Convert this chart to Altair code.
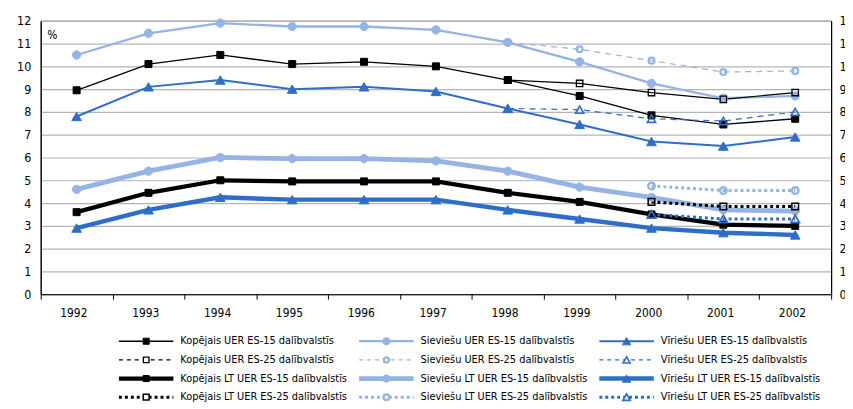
import altair as alt
import pandas as pd

years = [1992, 1993, 1994, 1995, 1996, 1997, 1998, 1999, 2000, 2001, 2002]
years_es25 = [1998, 1999, 2000, 2001, 2002]
years_lt25 = [2000, 2001, 2002]

kop_es15 = [8.95, 10.1, 10.5, 10.1, 10.2, 10.0, 9.4, 8.7, 7.85, 7.45, 7.7]
siev_es15 = [10.5, 11.45, 11.9, 11.75, 11.75, 11.6, 11.05, 10.2, 9.25, 8.6, 8.7]
vir_es15 = [7.8, 9.1, 9.4, 9.0, 9.1, 8.9, 8.15, 7.45, 6.7, 6.5, 6.9]
kop_es25 = [9.4, 9.25, 8.85, 8.55, 8.85]
siev_es25 = [11.05, 10.75, 10.25, 9.75, 9.8]
vir_es25 = [8.15, 8.1, 7.7, 7.6, 8.0]
kop_lt15 = [3.6, 4.45, 5.0, 4.95, 4.95, 4.95, 4.45, 4.05, 3.5, 3.05, 3.0]
siev_lt15 = [4.6, 5.4, 6.0, 5.95, 5.95, 5.85, 5.4, 4.7, 4.25, 3.7, 3.65]
vir_lt15 = [2.9, 3.7, 4.25, 4.15, 4.15, 4.15, 3.7, 3.3, 2.9, 2.7, 2.6]
kop_lt25 = [4.05, 3.85, 3.85]
siev_lt25 = [4.75, 4.55, 4.55]
vir_lt25 = [3.5, 3.3, 3.3]

series_names = [
    "Kopējais UER ES-15 dalībvalstīs",
    "Sieviešu UER ES-15 dalībvalstīs",
    "Vīriešu UER ES-15 dalībvalstīs",
    "Kopējais UER ES-25 dalībvalstīs",
    "Sieviešu UER ES-25 dalībvalstīs",
    "Vīriešu UER ES-25 dalībvalstīs",
    "Kopējais LT UER ES-15 dalībvalstīs",
    "Sieviešu LT UER ES-15 dalībvalstīs",
    "Vīriešu LT UER ES-15 dalībvalstīs",
    "Kopējais LT UER ES-25 dalībvalstīs",
    "Sieviešu LT UER ES-25 dalībvalstīs",
    "Vīriešu LT UER ES-25 dalībvalstīs",
]
series_years = [years, years, years, years_es25, years_es25, years_es25,
                years, years, years, years_lt25, years_lt25, years_lt25]
series_values = [kop_es15, siev_es15, vir_es15, kop_es25, siev_es25, vir_es25,
                 kop_lt15, siev_lt15, vir_lt15, kop_lt25, siev_lt25, vir_lt25]

# legend grid placement (column, row)
legend_col = [0, 1, 2, 0, 1, 2, 0, 1, 2, 0, 1, 2]
legend_row = [0, 0, 0, 1, 1, 1, 2, 2, 2, 3, 3, 3]

BLACK = "#000000"
LIGHT = "#95B3E3"
BLUE = "#2E6EC6"

# styles: color, line width, chart dash, legend dash, shape, filled, size, marker stroke width
styles = [
    dict(c=BLACK, w=1.3, dash=None, ldash=None, shape="square", filled=True, size=50, mw=1),
    dict(c=LIGHT, w=2.3, dash=None, ldash=None, shape="circle", filled=True, size=70, mw=1),
    dict(c=BLUE, w=2.0, dash=None, ldash=None, shape="triangle-up", filled=True, size=95, mw=1),
    dict(c=BLACK, w=1.2, dash=None, ldash=[4, 4], shape="square", filled=False, size=42, mw=1.3),
    dict(c=LIGHT, w=1.2, dash=[6, 5], ldash=[4, 4], shape="circle", filled=False, size=36, mw=2.2),
    dict(c=BLUE, w=1.2, dash=[6, 5], ldash=[4, 4], shape="triangle-up", filled=False, size=70, mw=1.6),
    dict(c=BLACK, w=4.3, dash=None, ldash=None, shape="square", filled=True, size=50, mw=1),
    dict(c=LIGHT, w=4.8, dash=None, ldash=None, shape="circle", filled=True, size=70, mw=1),
    dict(c=BLUE, w=4.5, dash=None, ldash=None, shape="triangle-up", filled=True, size=95, mw=1),
    dict(c=BLACK, w=3.0, dash=[3, 3], ldash=[3, 3], shape="square", filled=False, size=45, mw=1.5),
    dict(c=LIGHT, w=3.0, dash=[3, 3], ldash=[3, 3], shape="circle", filled=False, size=45, mw=2.4),
    dict(c=BLUE, w=3.0, dash=[3, 3], ldash=[3, 3], shape="triangle-up", filled=False, size=75, mw=1.7),
]

rows = []
for name, ys, vs in zip(series_names, series_years, series_values):
    for y, v in zip(ys, vs):
        rows.append({"series": name, "year": y, "value": v})
df = pd.DataFrame(rows)

legend_df = pd.DataFrame({"series": series_names, "col": legend_col, "row": legend_row})

FONT = "Liberation Sans Narrow, DejaVu Sans Condensed, Arial Narrow, sans-serif"

x_enc = alt.X(
    "year:Q",
    scale=alt.Scale(domain=[1991.5, 2002.5], nice=False, zero=False),
    axis=alt.Axis(
        values=[1991.5 + k for k in range(12)],
        labelExpr="datum.value < 2002 ? toString(datum.value + 0.5) : ''",
        labelOffset=33, labelFlush=False, labelOverlap=False, grid=False,
        tickSize=5, tickColor="black", domainColor="black", labelPadding=9,
        labelFontSize=12, labelFont=FONT, labelColor="black", title=None,
    ),
)
y_enc = alt.Y(
    "value:Q",
    scale=alt.Scale(domain=[0, 12], nice=False),
    axis=alt.Axis(
        values=list(range(13)), grid=True, gridColor="#B5B5B5", gridWidth=1.2,
        ticks=False, labelPadding=10, domainColor="black", labelFontSize=12.5,
        labelFont=FONT, labelColor="black",
        title="%", titleAngle=0, titleX=6, titleY=14, titleAlign="left",
        titleBaseline="middle", titleFontWeight="normal", titleFontSize=12,
        titleFont=FONT, titleColor="black",
    ),
)

main_layers = []
for name, st in zip(series_names, styles):
    base = alt.Chart(df).transform_filter(alt.datum.series == name)
    lkw = dict(color=st["c"], strokeWidth=st["w"])
    if st["dash"]:
        lkw["strokeDash"] = st["dash"]
    main_layers.append(base.mark_line(**lkw).encode(x=x_enc, y=y_enc))
for name, st in zip(series_names, styles):
    base = alt.Chart(df).transform_filter(alt.datum.series == name)
    pkw = dict(shape=st["shape"], size=st["size"], stroke=st["c"], strokeWidth=st["mw"], opacity=1)
    if st["filled"]:
        pkw["fill"] = st["c"]
        pkw["fillOpacity"] = 1
    else:
        pkw["fill"] = "transparent"
    main_layers.append(base.mark_point(**pkw).encode(x=x_enc, y=y_enc))
main = alt.layer(*main_layers)

right_axis = alt.Chart(df).mark_point(opacity=0).encode(
    y=alt.Y(
        "value:Q",
        scale=alt.Scale(domain=[0, 12], nice=False),
        axis=alt.Axis(orient="right", values=list(range(13)), grid=False, ticks=False,
                      labelPadding=8, domainColor="black", labelFontSize=12.5,
                      labelFont=FONT, labelColor="black", title=None),
    )
)

lx = alt.X("col:Q", scale=alt.Scale(domain=[0, 2], range=[79, 564]), axis=None)
ly = alt.Y("row:Q", scale=alt.Scale(domain=[0, 3], range=[323.5, 380]), axis=None)

legend_layers = []
for name, st in zip(series_names, styles):
    base = alt.Chart(legend_df).transform_filter(alt.datum.series == name)
    rkw = dict(color=st["c"], strokeWidth=st["w"], x2Offset=55)
    if st["ldash"]:
        rkw["strokeDash"] = st["ldash"]
    legend_layers.append(base.mark_rule(**rkw).encode(x=lx, x2=alt.X2("col"), y=ly))
    pkw = dict(shape=st["shape"], size=st["size"] * 0.75, stroke=st["c"], strokeWidth=st["mw"],
               xOffset=27.5, opacity=1)
    if st["filled"]:
        pkw["fill"] = st["c"]
        pkw["fillOpacity"] = 1
    else:
        pkw["fill"] = "white"
        pkw["fillOpacity"] = 1
    legend_layers.append(base.mark_point(**pkw).encode(x=lx, y=ly))
legend_layers.append(
    alt.Chart(legend_df).mark_text(align="left", baseline="middle", dx=62, fontSize=11,
                                   font=FONT, color="black")
    .encode(x=lx, y=ly, text="series:N")
)
legend = alt.layer(*legend_layers)

chart = (
    alt.layer(main, right_axis, legend)
    .resolve_scale(x="independent", y="independent")
    .properties(
        width=798, height=276,
        padding={"left": 33, "top": 11, "right": 14, "bottom": 114},
        autosize=alt.AutoSizeParams(type="none"),
        background="white",
    )
    .configure_view(stroke="black", strokeWidth=1)
)

chart.save("out.html", embed_options={"renderer": "svg", "actions": False})
